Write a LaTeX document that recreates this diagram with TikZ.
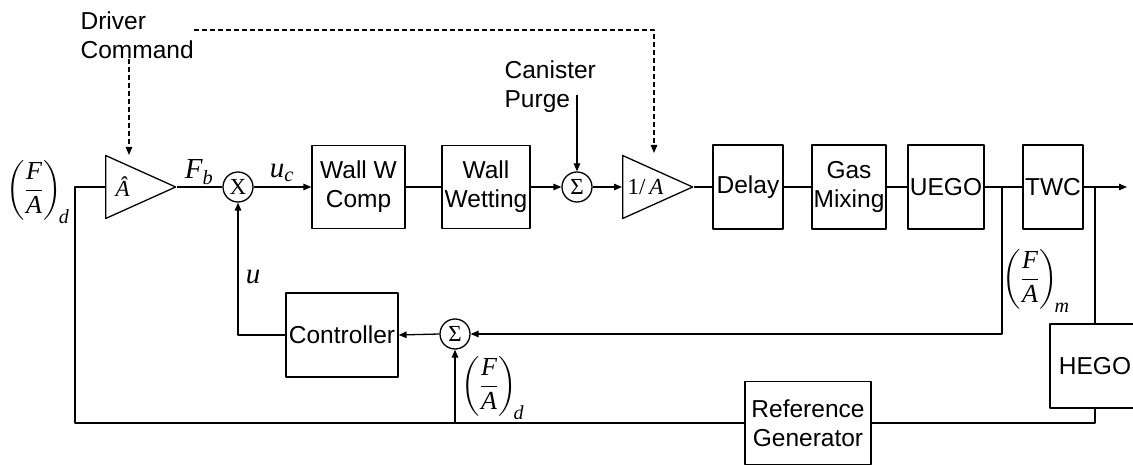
\documentclass[tikz,border=0pt]{standalone}
\usepackage{amsmath}
\usepackage[no-math]{fontspec}
\setmainfont{Liberation Sans}
\newfontfamily\tnr{Liberation Serif}
\usetikzlibrary{shapes.geometric,arrows.meta}
\newcommand{\vi}[1]{\text{\tnr\itshape #1}}
\newcommand{\razon}[1]{\left(\vcenter{\hbox{\rule{0pt}{64pt}}}\dfrac{\vi{F}}{\vi{A}}\right)_{\!\mbox{\tnr\itshape\fontsize{20}{20}\selectfont #1}}}
\begin{document}
\begin{tikzpicture}[x=1pt, y=-1pt, line width=1.3pt, line join=round,
  >={Triangle[length=8pt,width=6.5pt]},
  caja/.style={draw, align=center, inner sep=0pt, font=\fontsize{24.5}{29}\selectfont},
  nudo/.style={draw, circle, minimum size=30pt, inner sep=0pt, font=\tnr\fontsize{23}{23}\selectfont},
  ganancia/.style={draw, isosceles triangle, isosceles triangle stretches, inner sep=0pt,
    minimum width=63pt, minimum height=70pt, font=\tnr\fontsize{23}{23}\selectfont},
  etiq/.style={inner sep=0pt, font=\fontsize{26}{30}\selectfont},
  senal/.style={inner sep=0pt, font=\fontsize{29}{29}\selectfont},
  guia/.style={dash pattern=on 5pt off 3pt}]
  \useasboundingbox (0,0) rectangle (1133,465);
  % fila de arriba
  \node[etiq] (fad) at (38,191) {$\razon{d}$};
  \coordinate (jl) at (75,187);
  \node[ganancia, anchor=lower side] (ahat) at (105,187) {\itshape Â};
  \node[nudo] (mult) at (238,187) {X};
  \node[caja, minimum width=93pt, minimum height=83pt] (wwc) at (358.5,187) {Wall W\\Comp};
  \node[caja, minimum width=88pt, minimum height=83pt] (ww) at (486,187) {Wall\\Wetting};
  \node[nudo] (sum1) at (577,187) {Σ};
  \node[ganancia, anchor=lower side] (inva) at (622,187) {1/\,\itshape A};
  \node[caja, minimum width=70pt, minimum height=84pt] (delay) at (748,187) {Delay};
  \node[caja, minimum width=74pt, minimum height=84pt] (gas) at (849,187) {Gas\\Mixing};
  \node[caja, minimum width=76pt, minimum height=84pt] (uego) at (946,187) {UEGO};
  \node[caja, minimum width=60pt, minimum height=84pt] (twc) at (1053,187) {TWC};
  \coordinate (salida) at (1127,187);
  \coordinate (jm) at (1002,187);
  \coordinate (jh) at (1095,187);
  % entradas de arriba
  \node[caja, draw=none, align=left, anchor=north west] (drv) at (80,11) {Driver\\Command};
  \node[caja, draw=none, align=left, anchor=north west] (cp) at (504,60) {Canister\\Purge};
  \coordinate (ahatin) at (129,155);
  \coordinate (cpin) at (577,95);
  \coordinate (esq) at (654,30);
  \coordinate (invain) at (654,153);
  % lazo de abajo
  \node[caja, minimum width=112pt, minimum height=84pt] (ctrl) at (342,335) {Controller};
  \node[nudo] (sum2) at (455,334) {Σ};
  \node[caja, minimum width=90pt, minimum height=84pt] (hego) at (1095,366) {HEGO};
  \node[caja, minimum width=126pt, minimum height=83pt] (refgen) at (808,423) {Reference\\Generator};
  % etiquetas
  \node[senal] (fb) at (199,172) {$\vi{F}_{\vi{b}}$};
  \node[senal] (uc) at (282,173) {$\vi{u}_{\vi{c}}$};
  \node[senal] (u) at (253,277) {$\vi{u}$};
  \node[etiq, anchor=west] (fam) at (1002,280) {$\razon{m}$};
  \node[etiq, anchor=west] (fad2) at (461,387) {$\razon{d}$};

  \draw (ahat.lower side) -- (jl) -- (jl |- refgen) -- (refgen.west);
  \draw (ahat.apex) -- (mult.west);
  \draw[->] (mult.east) -- (wwc.west);
  \draw (wwc.east) -- (ww.west);
  \draw[->] (ww.east) -- (sum1.west);
  \draw[->] (sum1.east) -- (inva.lower side);
  \draw (inva.apex) -- (delay.west);
  \draw (delay.east) -- (gas.west);
  \draw (gas.east) -- (uego.west);
  \draw (uego.east) -- (twc.west);
  \draw[->] (twc.east) -- (salida);
  \draw[->] (cpin) -- (sum1.north);
  \draw[guia,->] (drv.south -| ahatin) -- (ahatin);
  \draw[guia,->] (drv.east |- esq) -- (esq) -- (invain);
  \draw[->] (jm) |- (sum2.east);
  \draw[->] (sum2.west) -- (ctrl.east);
  \draw[->] (ctrl.west) -| (mult.south);
  \draw (jh) -- (hego.north);
  \draw (hego.south) |- (refgen.east);
  \draw[->] (refgen.west -| sum2) -- (sum2.south);
\end{tikzpicture}
\end{document}
